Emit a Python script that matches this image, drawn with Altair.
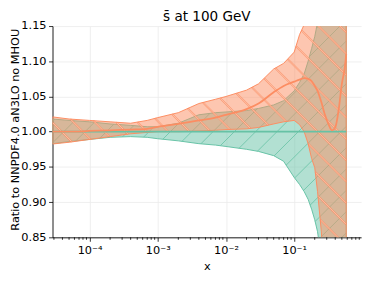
import altair as alt
import numpy as np
import pandas as pd

# ---------------- data ----------------
x_vals = [2.86e-5, 5e-5, 1e-4, 2e-4, 4e-4, 7e-4, 1e-3, 2e-3, 4e-3, 7e-3, 1e-2,
          2e-2, 3e-2, 5e-2, 7e-2, 0.1, 0.12, 0.14, 0.16, 0.18, 0.2, 0.22, 0.25,
          0.28, 0.32, 0.36, 0.4, 0.45, 0.5, 0.55, 0.58]

orange_central = [1.000, 1.000, 1.001, 1.002, 1.003, 1.004, 1.007, 1.011, 1.016, 1.020, 1.024,
                  1.032, 1.040, 1.056, 1.065, 1.071, 1.074, 1.076, 1.075, 1.072, 1.065, 1.058, 1.042,
                  1.025, 1.010, 1.002, 1.006, 1.032, 1.068, 1.090, 1.110]
orange_upper = [1.021, 1.018, 1.016, 1.014, 1.012, 1.016, 1.020, 1.027, 1.040, 1.046, 1.050,
                1.059, 1.068, 1.089, 1.097, 1.113, 1.138, 1.152, 1.300, 1.500, 1.500, 1.500, 1.500,
                1.500, 1.500, 1.500, 1.500, 1.500, 1.500, 1.500, 1.500]
orange_lower = [0.9825, 0.985, 0.989, 0.993, 0.997, 0.999, 1.000, 1.000, 1.001, 1.002, 1.003,
                1.004, 1.006, 1.011, 1.014, 1.016, 1.010, 1.000, 0.983, 0.962, 0.949, 0.915, 0.858,
                0.780, 0.500, 0.500, 0.500, 0.500, 0.500, 0.500, 0.500]

green_central = [1.0] * len(x_vals)
green_upper = [1.018, 1.016, 1.014, 1.011, 1.009, 1.007, 1.007, 1.012, 1.024, 1.027, 1.028,
               1.030, 1.033, 1.038, 1.044, 1.058, 1.070, 1.082, 1.100, 1.118, 1.135, 1.155, 1.300,
               1.500, 1.500, 1.500, 1.500, 1.500, 1.500, 1.500, 1.500]
green_lower = [0.983, 0.986, 0.989, 0.992, 0.993, 0.992, 0.990, 0.987, 0.983, 0.981, 0.979,
               0.975, 0.972, 0.966, 0.958, 0.935, 0.925, 0.915, 0.904, 0.890, 0.875, 0.858, 0.820,
               0.700, 0.500, 0.500, 0.500, 0.500, 0.500, 0.500, 0.500]

major_ticks = [1e-4, 1e-3, 1e-2, 1e-1]
minor_ticks = [k * 10.0 ** d for d in range(-5, 0) for k in range(2, 10)
               if 2.86e-5 <= k * 10.0 ** d <= 0.957]
y_ticks = [0.85, 0.90, 0.95, 1.00, 1.05, 1.10, 1.15]

# ---------------- layout / style ----------------
XMIN, XMAX = 2.86e-5, 0.957
YMIN, YMAX = 0.85, 1.15
W, H = 314, 215
GREEN, ORANGE = "#66c2a5", "#fc8d62"
FONT = "DejaVu Sans"

LMIN, LMAX = np.log10(XMIN), np.log10(XMAX)
lx = np.log10(x_vals)


def hatch(lo, hi, slope, spacing, phase):
    """Hatch segments at 45 deg in screen space, clipped to the band lo..hi."""
    u = np.arange(0.0, W + 0.05, 0.1)
    l = LMIN + u / W * (LMAX - LMIN)
    lo_i = np.interp(l, lx, lo)
    hi_i = np.interp(l, lx, hi)
    in_x = (l >= lx[0]) & (l <= lx[-1])
    rows = []
    gid = 0
    for k in range(-40, 40):
        c = phase + spacing * k
        v = c + slope * u
        y = YMAX - v / H * (YMAX - YMIN)
        ins = (y >= lo_i) & (y <= hi_i) & in_x & (v >= -3) & (v <= H + 3)
        if not ins.any():
            continue
        d = np.diff(np.concatenate([[0], ins.astype(int), [0]]))
        starts = np.where(d == 1)[0]
        ends = np.where(d == -1)[0] - 1
        for s, e in zip(starts, ends):
            if e <= s:
                continue
            for i in (s, e):
                rows.append({"x": 10 ** l[i], "y": y[i], "g": gid})
            gid += 1
    return pd.DataFrame(rows)


def xenc():
    return alt.X("x:Q", scale=alt.Scale(type="log", domain=[XMIN, XMAX], nice=False),
                 axis=alt.Axis(values=major_ticks, title="x", tickSize=4,
                               labelExpr="datum.value < 0.0005 ? '10⁻⁴' : datum.value < 0.005 ? '10⁻³' : datum.value < 0.05 ? '10⁻²' : '10⁻¹'",
                               labelBaseline="alphabetic", labelPadding=12,
                               titleBaseline="alphabetic", titleY=32.5, titleAlign="center",
                               grid=True, labelFlush=False))


def yenc(field="y"):
    return alt.Y(f"{field}:Q", scale=alt.Scale(domain=[YMIN, YMAX], nice=False, zero=False),
                 axis=alt.Axis(values=y_ticks, format=".2f", title="Ratio to NNPDF4.0 aN3LO no MHOU",
                               tickSize=4, labelPadding=2.6, grid=True,
                               titleAngle=270, titleAlign="center", titleBaseline="alphabetic",
                               titleX=-35, titleY=105))


band_g = pd.DataFrame({"x": x_vals, "lo": green_lower, "hi": green_upper})
band_o = pd.DataFrame({"x": x_vals, "lo": orange_lower, "hi": orange_upper})
line_g = pd.DataFrame({"x": x_vals, "y": green_central})
line_o = pd.DataFrame({"x": x_vals, "y": orange_central})

hatch_g = hatch(green_lower, green_upper, -1.0, 21.7, 10.4)
hatch_o = hatch(orange_lower, orange_upper, 1.0, 21.7, 11.4)

area_g = alt.Chart(band_g).mark_area(clip=True, color=GREEN, opacity=0.5).encode(
    x=xenc(), y=yenc("lo"), y2="hi:Q")
edge_g = alt.Chart(band_g).mark_area(clip=True, fillOpacity=0, stroke=GREEN, strokeWidth=1).encode(
    x=xenc(), y=yenc("lo"), y2="hi:Q")
hl_g = alt.Chart(hatch_g).mark_line(clip=True, color=GREEN, strokeWidth=0.8).encode(
    x=xenc(), y=yenc(), detail="g:N")

area_o = alt.Chart(band_o).mark_area(clip=True, color=ORANGE, opacity=0.5).encode(
    x=xenc(), y=yenc("lo"), y2="hi:Q")
edge_o = alt.Chart(band_o).mark_area(clip=True, fillOpacity=0, stroke=ORANGE, strokeWidth=1).encode(
    x=xenc(), y=yenc("lo"), y2="hi:Q")
hl_o = alt.Chart(hatch_o).mark_line(clip=True, color=ORANGE, strokeWidth=1.8, opacity=0.85).encode(
    x=xenc(), y=yenc(), detail="g:N")
hl_o2 = alt.Chart(hatch_o).mark_line(clip=True, color="#fde6dc", strokeWidth=0.6, opacity=0.9).encode(
    x=xenc(), y=yenc(), detail="g:N")

cl_g = alt.Chart(line_g).mark_line(clip=True, color=GREEN, strokeWidth=1.8).encode(x=xenc(), y=yenc())
cl_o = alt.Chart(line_o).mark_line(clip=True, color=ORANGE, strokeWidth=1.8,
                                   interpolate="monotone").encode(x=xenc(), y=yenc())

minor = alt.Chart(pd.DataFrame({"x": minor_ticks})).mark_rule(color="black", strokeWidth=0.8).encode(
    x=xenc(), y=alt.value(H), y2=alt.value(H + 2.5))

chart = alt.layer(area_g, hl_g, edge_g, area_o, hl_o, hl_o2, edge_o, cl_g, cl_o, minor).properties(
    width=W, height=H,
    title=alt.Title("s̄ at 100 GeV", font=FONT, fontSize=13.8, fontWeight="normal",
                    color="black", offset=3, dy=6.5, anchor="middle", frame="group"),
    padding={"left": 45.3, "top": 16, "right": 5, "bottom": 38},
    autosize=alt.AutoSizeParams(type="none"),
).configure_view(stroke=None).configure_axis(
    labelFont=FONT, labelFontSize=11.5, labelColor="black",
    titleFont=FONT, titleFontSize=11.5, titleFontWeight="normal", titleColor="black",
    tickColor="black", tickWidth=0.8, domainColor="black", domainWidth=0.9,
    gridColor="#ebebeb", gridWidth=0.8,
)

chart.save("out.html", embed_options={"renderer": "svg", "actions": False})
